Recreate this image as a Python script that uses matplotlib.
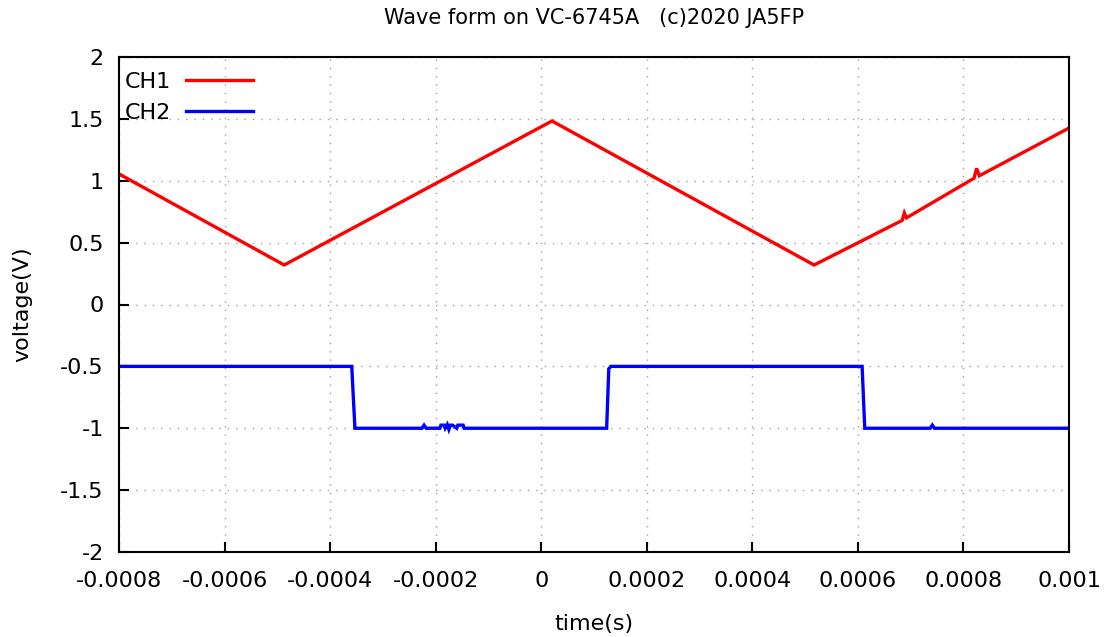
import matplotlib
matplotlib.use("Agg")
import matplotlib.pyplot as plt

plt.rcParams['font.family'] = ['DejaVu Sans']

title = "Wave form on VC-6745A   (c)2020 JA5FP"
xlabel = "time(s)"
ylabel = "voltage(V)"

# CH1: triangle wave
ch1_t = [-0.0008, -0.000487, 0.0000204, 0.000517, 0.000684, 0.000688, 0.000692,
         0.000820, 0.000825, 0.000830, 0.001]
ch1_v = [1.055, 0.319, 1.483, 0.319, 0.68, 0.74, 0.70,
         1.02, 1.10, 1.04, 1.426]

# CH2: square wave
ch2_t = [-0.0008, -0.000359, -0.000353, -0.000226, -0.000222, -0.000218,
         -0.000192, -0.000190, -0.000184, -0.000182, -0.000178, -0.000175,
         -0.000172, -0.000168, -0.000160, -0.000158, -0.000148, -0.000146,
         0.000124, 0.000128, 0.000132, 0.000608, 0.000613,
         0.000737, 0.000741, 0.000745, 0.001]
ch2_v = [-0.5, -0.5, -1.0, -1.0, -0.975, -1.0,
         -1.0, -0.975, -0.975, -1.0, -0.97, -1.01,
         -0.975, -0.975, -1.0, -0.975, -0.975, -1.0,
         -1.0, -0.52, -0.5, -0.5, -1.0,
         -1.0, -0.975, -1.0, -1.0]

xticks = [-0.0008, -0.0006, -0.0004, -0.0002, 0, 0.0002, 0.0004, 0.0006, 0.0008, 0.001]
xticklabels = ["-0.0008", "-0.0006", "-0.0004", "-0.0002", "0", "0.0002", "0.0004",
               "0.0006", "0.0008", "0.001"]
yticks = [-2, -1.5, -1, -0.5, 0, 0.5, 1, 1.5, 2]
yticklabels = ["-2", "-1.5", "-1", "-0.5", "0", "0.5", "1", "1.5", "2"]

fig = plt.figure(figsize=(11.11, 6.37), dpi=100)
ax = fig.add_axes([119/1111, 1-552/637, 950/1111, 495/637])

ax.plot(ch1_t, ch1_v, color='#ff0000', lw=2.4, label='CH1', solid_joinstyle='miter')
ax.plot(ch2_t, ch2_v, color='#0000ff', lw=2.4, label='CH2', solid_joinstyle='miter')

ax.set_xlim(-0.0008, 0.001)
ax.set_ylim(-2, 2)
ax.set_xticks(xticks)
ax.set_xticklabels(xticklabels)
ax.set_yticks(yticks)
ax.set_yticklabels(yticklabels)
ax.tick_params(direction='in', length=7, width=1.5, labelsize=16,
               top=False, right=False)
ax.tick_params(axis='x', pad=14)
ax.tick_params(axis='y', pad=11)
ax.grid(True, color='#a0a0a0', linestyle=(0, (1, 5)), lw=1)
ax.set_axisbelow(True)
for s in ax.spines.values():
    s.set_linewidth(1.5)
    s.set_color('black')

ax.set_xlabel(xlabel, fontsize=16, labelpad=16)
ax.set_ylabel(ylabel, fontsize=16, labelpad=20)
fig.text(0.5345, 1-18/637, title, ha='center', va='center', fontsize=15)

leg = ax.legend(loc='upper left', frameon=False, markerfirst=False, fontsize=16,
                handlelength=3.0, handletextpad=0.68, borderaxespad=0.0,
                labelspacing=0.48, borderpad=0.0, bbox_to_anchor=(0.006, 0.97))

fig.savefig("out.png", dpi=100)
